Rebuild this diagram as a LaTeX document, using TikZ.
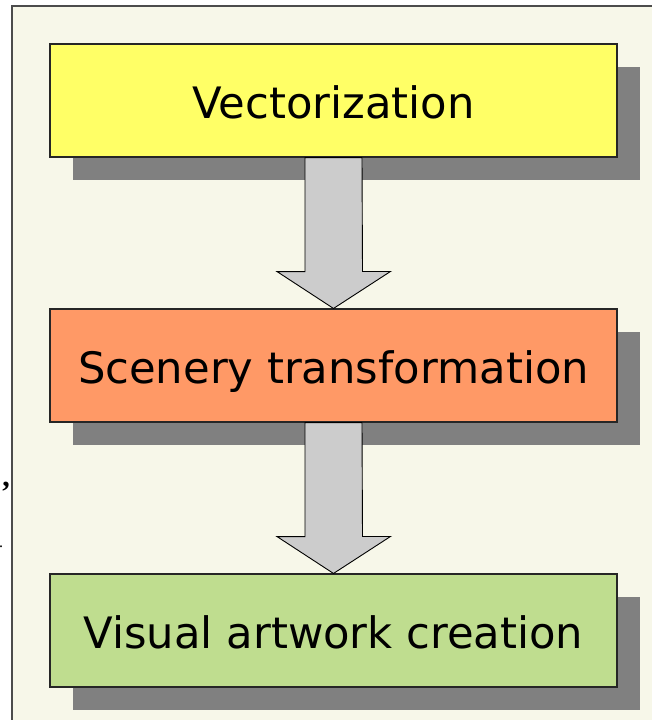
\documentclass[tikz,border=0pt]{standalone}
\usepackage{fontspec}
\setmainfont{DejaVu Sans}
\newfontfamily\serifmark{Liberation Serif}
\definecolor{panelbg}{HTML}{F7F7E9}
\definecolor{stepyellow}{HTML}{FFFF66}
\definecolor{steporange}{HTML}{FF9966}
\definecolor{stepgreen}{HTML}{BFDD8F}
\definecolor{shadowgray}{HTML}{808080}
\definecolor{arrowgray}{HTML}{CCCCCC}
\tikzset{
  stepbox/.style={draw=black!85, line width=1.1pt, minimum width=567pt, minimum height=113pt,
    inner sep=0pt, text height=35pt, text depth=0pt, font=\fontsize{43.3}{48}\selectfont},
  boxshadow/.style={fill=shadowgray, draw=none},
  flowarrow/.style={fill=arrowgray, draw=black, line width=0.9pt, line join=miter},
}
\begin{document}
\begin{tikzpicture}[x=1pt, y=-1pt]
\useasboundingbox (0,0) rectangle (652,720);
% panel
\fill[white] (0,0) rectangle (652,720);
\fill[panelbg] (12,6) rectangle (652,720);
\draw[line width=1.5pt, black!70] (12,720) -- (12,6) -- (652,6);
% stray glyphs at the left margin
\node[font=\serifmark\bfseries\fontsize{30}{30}\selectfont, inner sep=0pt] (commamark) at (6,487) {,};
\node[font=\serifmark\fontsize{16}{16}\selectfont, inner sep=0pt] (dotmark) at (1,547) {.};
% shadows
\fill[boxshadow] (73,67) rectangle (640,180);
\fill[boxshadow] (73,332) rectangle (640,445);
\fill[boxshadow] (73,597) rectangle (640,710);
% boxes
\node[stepbox, fill=stepyellow] (vec) at (333.5,100.5) {Vectorization};
\node[stepbox, fill=steporange] (scen) at (333.5,365.5) {Scenery transformation};
\node[stepbox, fill=stepgreen] (vis) at (333.5,630.5) {Visual artwork creation};
% block arrows
\draw[flowarrow] ([xshift=-28.5pt]vec.south) -- ++(0,114) -- ++(-28,0)
  -- (scen.north) -- ++(57,-37) -- ++(-28,0) -- ([xshift=28.5pt]vec.south) -- cycle;
\draw[flowarrow] ([xshift=-28.5pt]scen.south) -- ++(0,114) -- ++(-28,0)
  -- (vis.north) -- ++(57,-37) -- ++(-28,0) -- ([xshift=28.5pt]scen.south) -- cycle;
\end{tikzpicture}
\end{document}
